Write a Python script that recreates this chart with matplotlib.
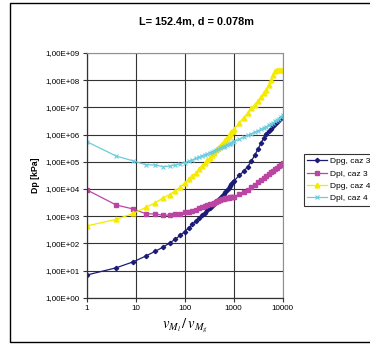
import math
import matplotlib
matplotlib.use('Agg')
import matplotlib.pyplot as plt
from matplotlib.ticker import FixedLocator, FuncFormatter, NullLocator
from matplotlib.patches import Rectangle

# ratio of viscosities (x) and pressure drops Dp [kPa]
ratio = [1, 4, 9, 16, 25, 36, 49, 64, 81, 100, 121, 144, 169, 196, 225, 256,
         289, 324, 361, 400, 441, 484, 529, 576, 625, 676, 729, 784, 841, 900,
         961, 1024, 1296, 1600, 1936, 2304, 2704, 3136, 3600, 4096, 4624,
         5184, 5776, 6400, 7056, 7744, 8464, 9216, 10000]

dpg_caz3 = [6.8, 12.6, 21, 34, 51, 72, 102, 141, 195, 269, 372, 501, 661, 851,
            1070, 1350, 1660, 2000, 2450, 2880, 3470, 4070, 4790, 5620, 6610,
            7590, 8910, 10700, 12600, 14800, 17400, 20000, 31600, 44700,
            66100, 107000, 178000, 295000, 479000, 759000, 1.05e6, 1.35e6,
            1.66e6, 2.0e6, 2.4e6, 2.88e6, 3.39e6, 3.98e6, 4.47e6]
dpl_caz3 = [9300, 2570, 1820, 1230, 1200, 1070, 1100, 1170, 1200, 1380, 1450,
            1510, 1700, 1910, 2090, 2290, 2510, 2690, 2880, 3090, 3310, 3630,
            3890, 4170, 4370, 4570, 4680, 4790, 4900, 5010, 5130, 5250, 6310,
            7590, 9120, 11500, 14500, 17400, 21400, 26300, 30900, 36300, 41700,
            46800, 52500, 58900, 67600, 77600, 89100]
dpg_caz4 = [436, 759, 1260, 2090, 3090, 4680, 6170, 8510, 11700, 16600, 22400,
            29500, 39800, 52500, 69200, 89100, 112000, 141000, 174000, 214000,
            263000, 316000, 380000, 447000, 525000, 631000, 741000, 871000,
            1.02e6, 1.2e6, 1.38e6, 1.62e6, 2.69e6, 4.17e6, 6.31e6, 9.12e6,
            1.26e7, 1.70e7, 2.34e7, 3.24e7, 4.37e7, 6.6e7, 1.0e8, 1.55e8,
            2.19e8, 2.34e8, 2.34e8, 2.34e8, 2.34e8]
dpl_caz4 = [550000, 162000, 107000, 77600, 75900, 66100, 69200, 75900, 83200,
            93300, 105000, 117000, 132000, 148000, 166000, 182000, 200000,
            214000, 234000, 251000, 275000, 295000, 316000, 339000, 363000,
            389000, 417000, 437000, 468000, 501000, 537000, 562000, 676000,
            794000, 933000, 1.07e6, 1.23e6, 1.38e6, 1.55e6, 1.74e6, 1.95e6,
            2.19e6, 2.45e6, 2.75e6, 3.09e6, 3.47e6, 3.89e6, 4.47e6, 5.25e6]

x_ticks = [1, 10, 100, 1000, 10000]
y_ticks = [1e0, 1e1, 1e2, 1e3, 1e4, 1e5, 1e6, 1e7, 1e8, 1e9]

plt.rcParams['font.family'] = ['Liberation Sans', 'DejaVu Sans']
plt.rcParams['mathtext.fontset'] = 'stix'

W, H = 370, 345
fig = plt.figure(figsize=(W / 100, H / 100), dpi=100)
ax = fig.add_axes([86.7 / W, 1 - 297.7 / H, 196 / W, 244.7 / H])

# outer chart frame
fig.patches.append(Rectangle((10 / W, 1 - 342 / H), 400 / W, 339 / H,
                             transform=fig.transFigure, fill=False,
                             edgecolor='black', linewidth=1.0))

ax.plot(ratio, dpg_caz3, color='#1c1c78', marker='D', markersize=2.2,
        linewidth=0.9, label='Dpg, caz 3')
ax.plot(ratio, dpl_caz3, color='#bb45a2', marker='s', markersize=3,
        linewidth=0.9, label='Dpl, caz 3')
ax.plot(ratio, dpg_caz4, color='#f5ea00', marker='^', markersize=3.5,
        linewidth=0.9, label='Dpg, caz 4')
ax.plot(ratio, dpl_caz4, color='#6ccbdc', marker='x', markersize=3,
        markeredgewidth=0.8, linewidth=0.9, label='Dpl, caz 4')

ax.set_xscale('log')
ax.set_yscale('log')
ax.set_xlim(1, 10000)
ax.set_ylim(1, 1e9)
ax.xaxis.set_major_locator(FixedLocator(x_ticks))
ax.yaxis.set_major_locator(FixedLocator(y_ticks))
ax.xaxis.set_minor_locator(NullLocator())
ax.yaxis.set_minor_locator(NullLocator())
ax.xaxis.set_major_formatter(FuncFormatter(lambda v, p: '%d' % v))
# excel style labels 1,00E+05
ax.yaxis.set_major_formatter(
    FuncFormatter(lambda v, p: '1,00E+%02d' % int(round(math.log10(v)))))
ax.tick_params(axis='both', labelsize=5.8, length=3, width=0.8,
               direction='out', color='#333333', pad=2)
ax.grid(True, color='#333333', linewidth=0.8)
for s in ['top', 'right']:
    ax.spines[s].set_color('#909090')
for s in ['left', 'bottom']:
    ax.spines[s].set_color('#333333')
    ax.spines[s].set_linewidth(0.9)

ax.set_ylabel('Dp [kPa]', fontsize=6.3, fontweight='bold', labelpad=4)
ax.set_xlabel(r'$v_{M_l}\,/\,v_{M_g}$', fontsize=10.5, labelpad=4)
fig.text(196 / W, 1 - 22 / H, 'L= 152.4m, d = 0.078m', ha='center',
         va='center', fontsize=7.8, fontweight='bold')

leg = ax.legend(loc='upper left', bbox_to_anchor=(304 / W, 1 - 154 / H),
                bbox_transform=fig.transFigure, fontsize=6, frameon=True,
                fancybox=False, edgecolor='black', borderpad=0.4,
                labelspacing=0.55, handlelength=2.4, handletextpad=0.3,
                borderaxespad=0)
leg.get_frame().set_linewidth(0.8)

fig.savefig('out.png', dpi=100)
